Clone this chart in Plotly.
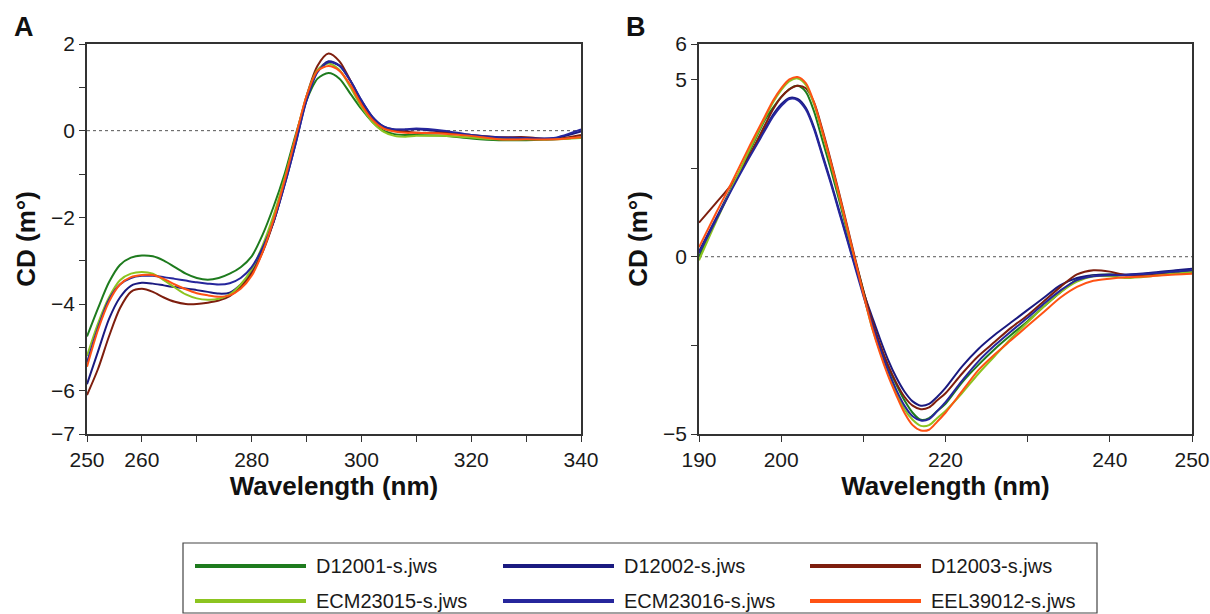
import plotly.graph_objects as go

# wavelength grids (nm)
wl_a = [250, 252, 254, 256, 258, 260, 262, 264, 266, 268, 270, 272, 274, 276, 278,
        280, 282, 284, 286, 288, 290, 292, 294, 296, 298, 300, 302, 304, 306, 308,
        310, 315, 320, 325, 330, 335, 340]
wl_b = [190, 192, 194, 196, 198, 199, 200, 201, 202, 203, 204, 205, 206, 207, 208,
        209, 210, 211, 212, 213, 214, 215, 216, 217, 218, 219, 220, 222, 224, 226,
        228, 230, 232, 234, 236, 238, 240, 242, 245, 248, 250]

names = ["D12001-s.jws", "D12002-s.jws", "D12003-s.jws",
         "ECM23015-s.jws", "ECM23016-s.jws", "EEL39012-s.jws"]
colors = ["#1e7b1e", "#1a1a80", "#7e1e0e", "#8cc420", "#26269c", "#ff5214"]

# panel A: CD (m deg), 250-340 nm
a_d12001 = [-4.75, -4.1, -3.5, -3.1, -2.93, -2.88, -2.9, -3.0, -3.15, -3.3, -3.4, -3.44, -3.4, -3.3, -3.15,
            -2.9, -2.4, -1.75, -1.0, -0.1, 0.7, 1.2, 1.33, 1.2, 0.85, 0.5, 0.2, 0.0, -0.08, -0.1,
            -0.1, -0.12, -0.18, -0.22, -0.22, -0.2, -0.15]
a_d12002 = [-5.85, -5.1, -4.35, -3.85, -3.58, -3.51, -3.53, -3.57, -3.61, -3.64, -3.68, -3.72, -3.76, -3.74, -3.55,
            -3.25, -2.75, -2.1, -1.25, -0.3, 0.72, 1.38, 1.6, 1.5, 1.15, 0.7, 0.32, 0.1, 0.03, 0.02,
            0.03, -0.03, -0.12, -0.17, -0.18, -0.18, -0.02]
a_d12003 = [-6.1, -5.5, -4.75, -4.1, -3.72, -3.65, -3.72, -3.85, -3.95, -4.0, -4.0, -3.97, -3.92, -3.82, -3.6,
            -3.3, -2.8, -2.1, -1.2, -0.2, 0.8, 1.5, 1.78, 1.6, 1.15, 0.65, 0.3, 0.08, 0.0, -0.02,
            -0.05, -0.05, -0.1, -0.15, -0.15, -0.2, -0.1]
a_ecm23015 = [-5.2, -4.45, -3.85, -3.45, -3.3, -3.26, -3.3, -3.45, -3.62, -3.78, -3.87, -3.9, -3.88, -3.78, -3.55,
              -3.2, -2.65, -1.95, -1.1, -0.15, 0.8, 1.4, 1.55, 1.4, 1.0, 0.55, 0.2, -0.02, -0.12, -0.14,
              -0.12, -0.12, -0.16, -0.2, -0.2, -0.2, -0.17]
a_ecm23016 = [-5.35, -4.55, -3.9, -3.55, -3.4, -3.35, -3.35, -3.38, -3.42, -3.46, -3.5, -3.53, -3.55, -3.52, -3.4,
              -3.15, -2.7, -2.1, -1.25, -0.3, 0.7, 1.35, 1.58, 1.5, 1.15, 0.7, 0.32, 0.1, 0.03, 0.03,
              0.05, 0.0, -0.1, -0.15, -0.17, -0.17, 0.03]
a_eel39012 = [-5.45, -4.6, -3.95, -3.55, -3.38, -3.33, -3.33, -3.42, -3.55, -3.66, -3.75, -3.8, -3.83, -3.8, -3.65,
              -3.35, -2.8, -2.05, -1.15, -0.15, 0.8, 1.38, 1.49, 1.38, 1.05, 0.6, 0.25, 0.05, -0.02, -0.05,
              -0.05, -0.07, -0.12, -0.2, -0.2, -0.2, -0.15]

# panel B: CD (m deg), 190-250 nm
b_d12001 = [0.0, 1.0, 1.95, 2.9, 3.85, 4.2, 4.5, 4.73, 4.82, 4.65, 4.1, 3.3, 2.5, 1.65, 0.75,
            -0.1, -0.95, -1.8, -2.5, -3.1, -3.6, -4.05, -4.4, -4.6, -4.55, -4.35, -4.15, -3.55, -3.05, -2.6,
            -2.2, -1.82, -1.4, -1.0, -0.65, -0.52, -0.5, -0.52, -0.5, -0.45, -0.42]
b_d12002 = [0.15, 1.05, 1.95, 2.8, 3.6, 4.0, 4.3, 4.48, 4.45, 4.2, 3.65, 2.9, 2.15, 1.35, 0.55,
            -0.25, -1.0, -1.65, -2.3, -2.9, -3.4, -3.8, -4.08, -4.2, -4.15, -3.95, -3.7, -3.1, -2.6, -2.2,
            -1.85, -1.5, -1.15, -0.8, -0.6, -0.52, -0.5, -0.5, -0.45, -0.38, -0.34]
b_d12003 = [0.96, 1.5, 2.05, 2.8, 3.7, 4.15, 4.5, 4.72, 4.82, 4.75, 4.35, 3.6, 2.75, 1.85, 0.9,
            -0.05, -0.95, -1.75, -2.45, -3.05, -3.55, -3.95, -4.2, -4.3, -4.25, -4.05, -3.85, -3.3, -2.8, -2.4,
            -2.0, -1.65, -1.25, -0.85, -0.5, -0.38, -0.42, -0.52, -0.5, -0.47, -0.45]
b_ecm23015 = [-0.1, 0.95, 1.95, 2.95, 3.9, 4.35, 4.7, 4.95, 5.03, 4.85, 4.3, 3.5, 2.65, 1.75, 0.8,
              -0.15, -1.05, -1.95, -2.65, -3.3, -3.85, -4.3, -4.6, -4.77, -4.75, -4.55, -4.35, -3.85, -3.3, -2.8,
              -2.3, -1.85, -1.4, -1.0, -0.7, -0.55, -0.55, -0.6, -0.55, -0.47, -0.42]
b_ecm23016 = [0.1, 1.0, 1.9, 2.75, 3.55, 3.95, 4.25, 4.45, 4.42, 4.15, 3.6, 2.85, 2.1, 1.3, 0.5,
              -0.3, -1.1, -1.85, -2.55, -3.2, -3.75, -4.2, -4.5, -4.62, -4.58, -4.35, -4.1, -3.5, -2.95, -2.5,
              -2.1, -1.72, -1.32, -0.95, -0.66, -0.55, -0.52, -0.52, -0.47, -0.42, -0.38]
b_eel39012 = [0.27, 1.2, 2.1, 3.05, 3.95, 4.4, 4.75, 5.0, 5.07, 4.9, 4.35, 3.55, 2.7, 1.8, 0.85,
              -0.1, -1.05, -1.95, -2.7, -3.35, -3.9, -4.4, -4.75, -4.9, -4.88, -4.65, -4.4, -3.8, -3.2, -2.75,
              -2.35, -1.95, -1.55, -1.15, -0.85, -0.68, -0.62, -0.58, -0.55, -0.5, -0.48]

series_a = [a_d12001, a_d12002, a_d12003, a_ecm23015, a_ecm23016, a_eel39012]
series_b = [b_d12001, b_d12002, b_d12003, b_ecm23015, b_ecm23016, b_eel39012]

FONT = "Liberation Sans, Arial, sans-serif"
MINUS = "\u2212"
W, H = 1210.0, 614.0


def lab(v):
    return f"{v:g}".replace("-", MINUS)


def px(x):
    # pixel -> paper x
    return x / W


def py(y):
    # pixel (from top) -> paper y
    return 1 - y / H


fig = go.Figure()

for name, col, ya, yb in zip(names, colors, series_a, series_b):
    fig.add_trace(go.Scatter(x=wl_a, y=ya, name=name, mode="lines",
                             line=dict(color=col, width=2, shape="spline", smoothing=0.8),
                             xaxis="x", yaxis="y", showlegend=False))
    fig.add_trace(go.Scatter(x=wl_b, y=yb, name=name, mode="lines",
                             line=dict(color=col, width=2, shape="spline", smoothing=0.8),
                             xaxis="x2", yaxis="y2", showlegend=False))

# tick positions / labels
xa_ticks = list(range(250, 341, 10))
xa_text = [str(v) if v in (250, 260, 280, 300, 320, 340) else "" for v in xa_ticks]
ya_ticks = list(range(-7, 3))
ya_text = [lab(v) if v in (-7, -6, -4, -2, 0, 2) else "" for v in ya_ticks]
xb_ticks = list(range(190, 251, 10))
xb_text = [str(v) if v in (190, 200, 220, 240, 250) else "" for v in xb_ticks]
yb_ticks = [-5, -2.5, 0, 2.5, 5, 6]
yb_text = [lab(v) if v in (-5, 0, 5, 6) else "" for v in yb_ticks]

axis_common = dict(showline=True, linecolor="#333333", linewidth=1.5, mirror=True,
                   ticks="outside", ticklen=6, tickwidth=1.2, tickcolor="#333333",
                   showgrid=False, zeroline=False, automargin=False,
                   tickfont=dict(family=FONT, size=21, color="#1a1a1a"))
title_font = dict(family=FONT, size=26, color="#111111")

fig.update_layout(
    width=1210, height=614,
    margin=dict(l=0, r=0, t=0, b=0),
    paper_bgcolor="white", plot_bgcolor="white",
    showlegend=False,
    xaxis=dict(domain=[px(87), px(581)], range=[250, 340], tickvals=xa_ticks, ticktext=xa_text,
               title=dict(text="<b>Wavelength (nm)</b>", font=title_font, standoff=6),
               anchor="y", **axis_common),
    yaxis=dict(domain=[py(434), py(44)], range=[-7, 2], tickvals=ya_ticks, ticktext=ya_text,
               title=dict(text="<b>CD (m°)</b>", font=title_font, standoff=8),
               anchor="x", **axis_common),
    xaxis2=dict(domain=[px(699), px(1192)], range=[190, 250], tickvals=xb_ticks, ticktext=xb_text,
                title=dict(text="<b>Wavelength (nm)</b>", font=title_font, standoff=6),
                anchor="y2", **axis_common),
    yaxis2=dict(domain=[py(434), py(44)], range=[-5, 6], tickvals=yb_ticks, ticktext=yb_text,
                title=dict(text="<b>CD (m°)</b>", font=title_font, standoff=8),
                anchor="x2", **axis_common),
)

# dotted zero lines
for xr, yr in (("x domain", "y"), ("x2 domain", "y2")):
    fig.add_shape(type="line", xref=xr, yref=yr, x0=0, x1=1, y0=0, y1=0,
                  line=dict(color="#555555", width=1, dash="dot"), layer="below")

# panel letters
for letter, lx in (("A", 12), ("B", 624)):
    fig.add_annotation(text=f"<b>{letter}</b>", x=px(lx), y=py(27), xref="paper", yref="paper",
                       showarrow=False, xanchor="left", yanchor="middle",
                       font=dict(family=FONT, size=27, color="#111111"))

# legend box drawn by hand (long line samples like the original)
fig.add_shape(type="rect", xref="paper", yref="paper",
              x0=px(183), x1=px(1097), y0=py(613), y1=py(543),
              line=dict(color="#444444", width=1.2), fillcolor="white")
col_x = [195, 503, 810]
row_y = [566, 601]
for i, (name, col) in enumerate(zip(names, colors)):
    cx = col_x[i % 3]
    cy = row_y[i // 3]
    fig.add_shape(type="line", xref="paper", yref="paper",
                  x0=px(cx), x1=px(cx + 111), y0=py(cy), y1=py(cy),
                  line=dict(color=col, width=4))
    fig.add_annotation(text=name, x=px(cx + 119), y=py(cy), xref="paper", yref="paper",
                       showarrow=False, xanchor="left", yanchor="middle",
                       font=dict(family=FONT, size=20, color="#1a1a1a"))

# drop the default page margin so the figure sits at the window's corner
fig.write_html("out.html", config={"displayModeBar": False},
               post_script="document.body.style.margin='0px';")
